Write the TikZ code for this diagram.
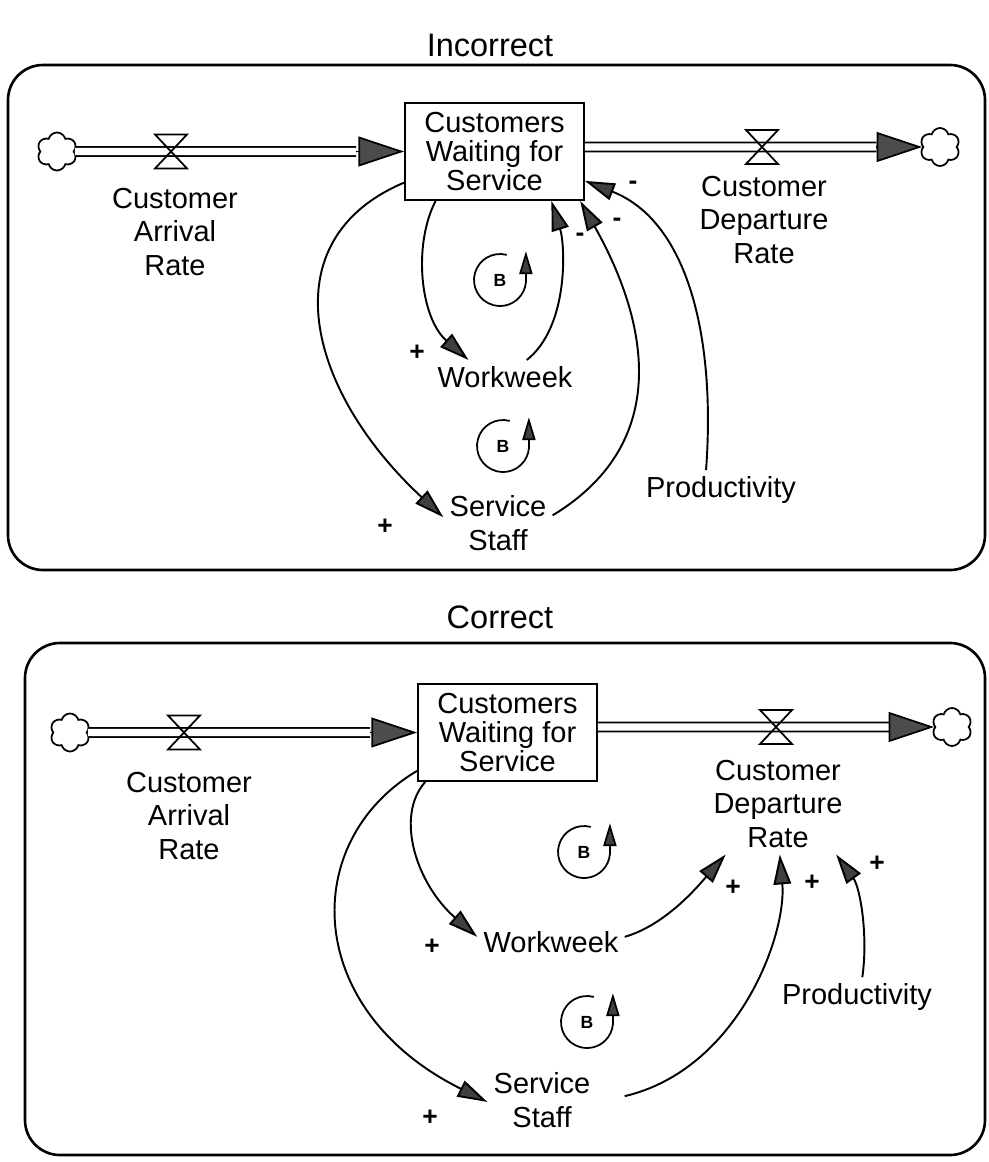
\documentclass[tikz,border=0pt]{standalone}
\usepackage{fontspec}
\setmainfont{Liberation Sans}
\usetikzlibrary{arrows.meta,shapes.symbols}

\begin{document}
\begin{tikzpicture}[x=0.02cm, y=0.02cm,
    varName/.style={font=\fontsize{16.5}{19.3}\selectfont, align=center, inner sep=0.12cm},
    stockBox/.style={draw, line width=1.1pt, minimum width=3.58cm, minimum height=1.94cm, inner sep=0pt, align=center, font=\fontsize{16.5}{16.4}\selectfont},
    sourceCloud/.style={cloud, cloud puffs=6, cloud ignores aspect, draw, line width=1pt, minimum width=0.8cm, minimum height=0.76cm, inner sep=0pt},
    flowPipe/.style={double, double distance=4pt, line width=1pt},
    flowHead/.style={line width=1pt, -{Triangle[length=26pt,width=17pt,fill=black!70]}},
    linkArrow/.style={line width=1.1pt, -{Triangle[length=17pt,width=10pt,fill=black!75]}},
    loopArrow/.style={line width=1pt, -{Triangle[length=13pt,width=7.5pt,fill=black!75]}},
    loopTag/.style={font=\fontsize{10}{10}\selectfont\bfseries},
    polSign/.style={font=\fontsize{15}{15}\selectfont\bfseries, inner sep=0pt},
    panelFrame/.style={line width=1.5pt, rounded corners=0.7cm},
    panelTitle/.style={font=\fontsize{18.5}{22}\selectfont},
    pics/valve/.style={code={\draw[line width=1pt] (-16,17) -- (16,17) -- (-16,-17) -- (16,-17) -- cycle;}}
]
    \useasboundingbox (0,0) rectangle (988,-1162);

    % Pannello superiore: Incorrect
    \node[panelTitle] (titleTop) at (490,-45) {Incorrect};
    \draw[panelFrame] (8,-65) rectangle (985,-570);

    \node[stockBox] (stockTop) at (494.5,-151.5) {Customers\\Waiting for\\Service};
    \node[sourceCloud] (cloudInTop) at (57,-151.5) {};
    \node[sourceCloud] (cloudOutTop) at (940,-147) {};
    \coordinate (headInTop) at ([xshift=-0.96cm]stockTop.west);
    \coordinate (headOutTop) at ([xshift=-0.92cm]cloudOutTop.west);

    \draw[flowPipe] (cloudInTop.east) -- (headInTop);
    \draw[flowHead] (headInTop) -- (stockTop.west);
    \draw[flowPipe] (stockTop.east |- cloudOutTop) -- (headOutTop);
    \draw[flowHead] (headOutTop) -- (cloudOutTop.west);
    \pic at (171,-151.5) {valve};
    \pic at (762,-147) {valve};

    \node[varName] (arrivalTop) at (175,-232) {Customer\\Arrival\\Rate};
    \node[varName] (departureTop) at (764,-220) {Customer\\Departure\\Rate};
    \node[varName] (workweekTop) at (505,-377) {Workweek};
    \node[varName] (staffTop) at (498,-523) {Service\\Staff};
    \node[varName] (productivityTop) at (721,-490) {Productivity};

    \draw[linkArrow] (stockTop.220) .. controls +(-23,-45) and +(-48,42) .. (workweekTop.155);
    \draw[linkArrow] (workweekTop.38) .. controls +(42,33) and +(14,-45) .. (stockTop.319);
    \draw[linkArrow] (stockTop.199) .. controls +(-135,-57) and +(-137,127) .. (staffTop.174);
    \draw[linkArrow] (staffTop.8) .. controls +(140,85) and +(48,-85) .. (stockTop.330);
    \draw[linkArrow] (productivityTop.127) .. controls +(10,135) and +(102,-40) .. (stockTop.342);

    \node[loopTag] (loopTopA) at (500,-280) {B};
    \draw[loopArrow] (loopTopA.center) ++(75:0.52cm) arc[start angle=75, end angle=355, radius=0.52cm] -- ++(0,0.62cm);
    \node[loopTag] (loopTopB) at (503,-446) {B};
    \draw[loopArrow] (loopTopB.center) ++(75:0.52cm) arc[start angle=75, end angle=355, radius=0.52cm] -- ++(0,0.62cm);

    \node[polSign] (plusWwTop) at (417,-353) {+};
    \node[polSign] (plusStTop) at (385,-527) {+};
    \node[polSign] (minusWwTop) at (580,-237) {-};
    \node[polSign] (minusStTop) at (617,-222) {-};
    \node[polSign] (minusPrTop) at (633,-185) {-};

    % Pannello inferiore: Correct
    \node[panelTitle] (titleBot) at (500,-617) {Correct};
    \draw[panelFrame] (25,-643) rectangle (985,-1155);

    \node[stockBox] (stockBot) at (507.5,-732.5) {Customers\\Waiting for\\Service};
    \node[sourceCloud] (cloudInBot) at (70,-732.5) {};
    \node[sourceCloud] (cloudOutBot) at (952,-727) {};
    \coordinate (headInBot) at ([xshift=-0.94cm]stockBot.west);
    \coordinate (headOutBot) at ([xshift=-0.9cm]cloudOutBot.west);

    \draw[flowPipe] (cloudInBot.east) -- (headInBot);
    \draw[flowHead] (headInBot) -- (stockBot.west);
    \draw[flowPipe] (stockBot.east |- cloudOutBot) -- (headOutBot);
    \draw[flowHead] (headOutBot) -- (cloudOutBot.west);
    \pic at (184,-732.5) {valve};
    \pic at (776,-727) {valve};

    \node[varName] (arrivalBot) at (189,-816) {Customer\\Arrival\\Rate};
    \node[varName] (departureBot) at (778,-804) {Customer\\Departure\\Rate};
    \node[varName] (workweekBot) at (551,-942) {Workweek};
    \node[varName] (staffBot) at (542,-1100) {Service\\Staff};
    \node[varName] (productivityBot) at (857,-997) {Productivity};

    \draw[linkArrow] (stockBot.211) .. controls +(-31,-35) and +(-60,52) .. (workweekBot.176);
    \draw[linkArrow] (stockBot.203) .. controls +(-118,-70) and +(-185,92) .. (staffBot.182);
    \draw[linkArrow] (workweekBot.4) .. controls +(41,12) and +(-28,-32) .. (departureBot.224);
    \draw[linkArrow] ([xshift=0.56cm]staffBot.4) .. controls +(114,27) and +(7,-80) .. (departureBot.272);
    \draw[linkArrow] (productivityBot.75) .. controls +(6,42) and +(24,-33) .. (departureBot.319);

    \node[loopTag] (loopBotA) at (584,-852) {B};
    \draw[loopArrow] (loopBotA.center) ++(75:0.52cm) arc[start angle=75, end angle=355, radius=0.52cm] -- ++(0,0.62cm);
    \node[loopTag] (loopBotB) at (587,-1022) {B};
    \draw[loopArrow] (loopBotB.center) ++(75:0.52cm) arc[start angle=75, end angle=355, radius=0.52cm] -- ++(0,0.62cm);

    \node[polSign] (plusWwBot) at (432,-947) {+};
    \node[polSign] (plusStBot) at (430,-1118) {+};
    \node[polSign] (plusWdBot) at (733,-888) {+};
    \node[polSign] (plusSdBot) at (812,-883) {+};
    \node[polSign] (plusPdBot) at (877,-864) {+};
\end{tikzpicture}
\end{document}
